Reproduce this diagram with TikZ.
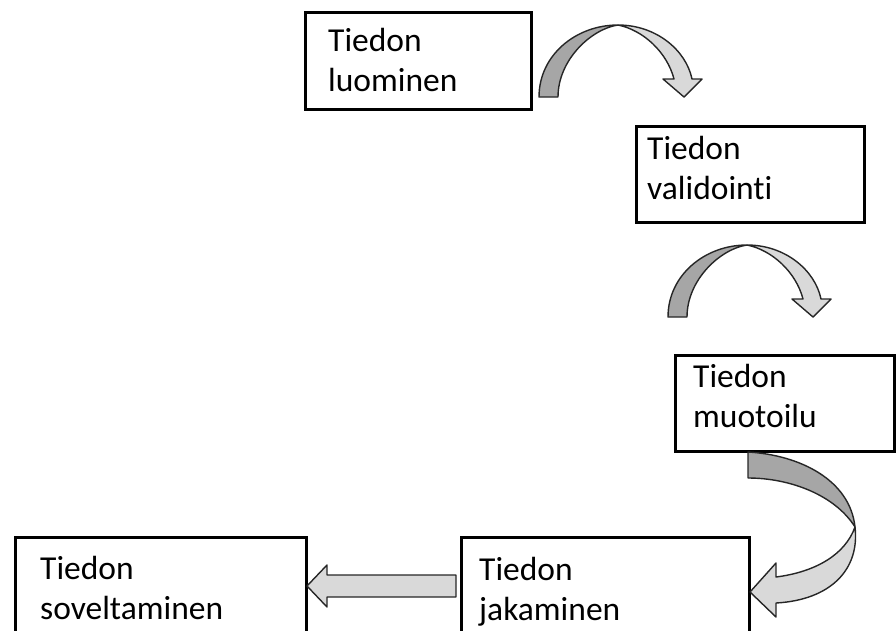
\documentclass[tikz,border=0pt]{standalone}
\usepackage{fontspec}
\setmainfont[Ligatures={NoCommon}]{Carlito}
\definecolor{darkfill}{HTML}{A6A6A6}
\definecolor{lightfill}{HTML}{D9D9D9}
\definecolor{edge}{HTML}{262626}
\begin{document}
\begin{tikzpicture}[x=1pt,y=-1pt,
  box/.style={draw=black,line width=3pt,rectangle,anchor=north west,inner sep=0pt},
  lbl/.style={anchor=base west,align=left,inner sep=0pt,font=\fontsize{33.5}{40}\selectfont},
  dark/.style={fill=darkfill,draw=edge,line width=1.4pt,line join=round},
  light/.style={fill=lightfill,draw=edge,line width=1.4pt,line join=round}]
\useasboundingbox (0,0) rectangle (896,630);
% boxes
\node[box,minimum width=226pt,minimum height=97pt] (b1) at (304,11) {};
\node[box,minimum width=228pt,minimum height=96pt] (b2) at (635,125) {};
\node[box,minimum width=219pt,minimum height=96pt] (b3) at (674,354) {};
\node[box,minimum width=288pt,minimum height=100pt] (b4) at (460,536) {};
\node[box,minimum width=291pt,minimum height=100pt] (b5) at (14,536) {};
% labels (anchor = baseline of the last line)
\node[lbl] (t1) at (328,91) {Tiedon\\luominen};
\node[lbl] (t2) at (647,199) {Tiedon\\validointi};
\node[lbl] (t3) at (693,427) {Tiedon\\muotoilu};
\node[lbl] (t4) at (479,620) {Tiedon\\jakaminen};
\node[lbl] (t5) at (40,619) {Tiedon\\soveltaminen};
% curved arrow 1 and 2 (same shape)
\foreach \dx/\dy in {-129/-220, 0/0}{
\begin{scope}[shift={(\dx,\dy)}]
\draw[dark] (668,317) .. controls (668,275) and (705,245) .. (747,245)
  .. controls (720,249) and (687,280) .. (687,317) -- cycle;
\draw[light] (747,245) .. controls (785,245) and (815,270) .. (821,299)
  -- (831,299) -- (813,317) -- (792,299) -- (803,299)
  .. controls (796,272) and (772,250) .. (747,245) -- cycle;
\end{scope}}
% curved arrow 3
\draw[dark] (748,452) .. controls (800,455) and (850,480) .. (855,527)
  .. controls (835,495) and (790,478) .. (748,478) -- cycle;
\draw[light] (855,527) .. controls (860,570) and (830,600) .. (776,603)
  -- (776,617) -- (750,592) -- (776,563) -- (776,577)
  .. controls (815,572) and (845,555) .. (855,527) -- cycle;
% straight arrow
\draw[light] (456,575) -- (327,575) -- (327,565) -- (307,586) -- (327,607) -- (327,597) -- (456,597) -- cycle;
\end{tikzpicture}
\end{document}
